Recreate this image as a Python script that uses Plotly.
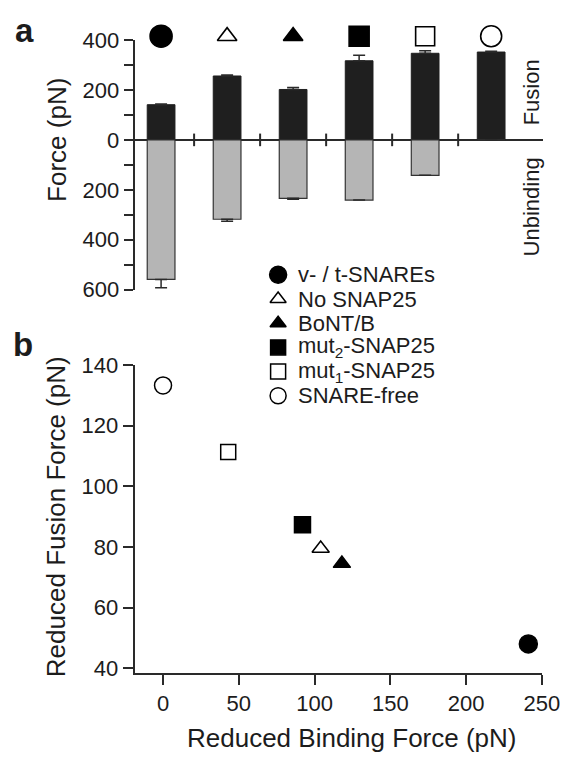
import plotly.graph_objects as go

# ---------------- data ----------------
conditions = ["v- / t-SNAREs", "No SNAP25", "BoNT/B",
              "mut<sub>2</sub>-SNAP25", "mut<sub>1</sub>-SNAP25", "SNARE-free"]
symbols = ["circle", "triangle-up-open", "triangle-up", "square", "square-open", "circle-open"]

fusion_force = [141, 256, 202, 317, 347, 352]
fusion_err = [3, 4, 8, 22, 10, 3]
unbinding_force = [559, 318, 234, 241, 142, 0]
unbinding_err = [33, 8, 4, 0, 0, 0]

reduced_binding = [241, 104, 118, 92, 43, 0]
reduced_fusion = [48, 79.5, 74.5, 87.3, 111.3, 133.3]

a_ticks = [-600, -400, -200, 0, 200, 400]
a_ticktext = ["600", "400", "200", "0", "200", "400"]
b_xticks = [0, 50, 100, 150, 200, 250]
b_yticks = [40, 60, 80, 100, 120, 140]

# ---------------- layout helpers ----------------
W, H = 581, 766
FONT = "Liberation Sans, Arial, sans-serif"
INK = "#1c1c1c"
AX = "#2a2a2a"

def px(xp):
    return xp / W

def py(yp):
    return 1 - yp / H

idx = list(range(len(conditions)))
fig = go.Figure()

# Panel a bars
fig.add_trace(go.Bar(
    x=idx, y=fusion_force, width=0.42,
    marker=dict(color="#1f1f1f", line=dict(color="#1f1f1f", width=1)),
    error_y=dict(type="data", symmetric=False, array=fusion_err,
                 arrayminus=[0] * len(idx), color=AX, thickness=1.5, width=6),
    xaxis="x", yaxis="y", showlegend=False))
fig.add_trace(go.Bar(
    x=idx, y=[-v for v in unbinding_force], width=0.42,
    marker=dict(color="#b5b5b5", line=dict(color="#333333", width=1.2)),
    error_y=dict(type="data", symmetric=False, array=[0] * len(idx),
                 arrayminus=unbinding_err, color=AX, thickness=1.5, width=6),
    xaxis="x", yaxis="y", showlegend=False))

# category boundary ticks on the zero line
bounds = [i + 0.5 for i in idx[:-1]]
fig.add_trace(go.Scatter(
    x=bounds, y=[0] * len(bounds), mode="markers",
    marker=dict(symbol="line-ns", size=9, line=dict(color=AX, width=2)),
    xaxis="x", yaxis="y", showlegend=False, hoverinfo="skip", cliponaxis=False))

# symbols above bars (own strip axis sharing the bar x axis)
fig.add_trace(go.Scatter(
    x=idx, y=[0.5] * len(idx), mode="markers",
    marker=dict(symbol=symbols, size=[22, 17, 17, 20, 19, 21], color="#000000",
                opacity=1, line=dict(color="#000000", width=1.6)),
    xaxis="x4", yaxis="y4", showlegend=False, cliponaxis=False, hoverinfo="skip"))

# Panel b scatter
fig.add_trace(go.Scatter(
    x=reduced_binding, y=reduced_fusion, mode="markers",
    marker=dict(symbol=symbols, size=[18, 15, 15, 16, 15, 17], color="#000000",
                opacity=1, line=dict(color="#000000", width=1.5)),
    xaxis="x2", yaxis="y2", showlegend=False, cliponaxis=False))

# Manual legend on a pixel overlay axis
leg_x, leg_y0, leg_dy = 287, 271.7, 25
leg_rows = [leg_y0 + i * leg_dy for i in idx]
fig.add_trace(go.Scatter(
    x=[leg_x] * len(idx), y=leg_rows, mode="markers",
    marker=dict(symbol=symbols, size=[17, 14, 14, 15, 15, 16], color="#000000",
                opacity=1, line=dict(color="#000000", width=1.5)),
    xaxis="x3", yaxis="y3", showlegend=False, cliponaxis=False, hoverinfo="skip"))

annotations = []
for name, yr in zip(conditions, leg_rows):
    annotations.append(dict(x=px(leg_x + 18), y=py(yr), xref="paper", yref="paper",
                            text=name, showarrow=False, xanchor="left", yanchor="middle",
                            font=dict(size=22, color=INK, family=FONT)))

def ann(text, x, y, size, angle=0, bold=False):
    annotations.append(dict(x=px(x), y=py(y), xref="paper", yref="paper",
                            text=f"<b>{text}</b>" if bold else text, showarrow=False,
                            xanchor="center", yanchor="middle", textangle=angle,
                            font=dict(size=size, color=INK, family=FONT)))

ann("a", 25, 19, 33, bold=True)
ann("b", 24, 344, 33, bold=True)
ann("Force (pN)", 58, 132, 26, angle=-90)
ann("Fusion", 548, 83, 22, angle=-90)
ann("Unbinding", 548, 202, 22, angle=-90)
ann("Reduced Fusion Force (pN)", 58, 522, 26, angle=-90)
ann("Reduced Binding Force (pN)", 363, 750, 26)

tickfont = dict(size=22, color=INK, family=FONT)

fig.update_layout(
    width=W, height=H, margin=dict(l=0, r=0, t=0, b=0),
    paper_bgcolor="white", plot_bgcolor="rgba(0,0,0,0)",
    barmode="overlay", font=dict(family=FONT, color=INK),
    annotations=annotations,
    xaxis=dict(domain=[px(139), px(560)], range=[-0.4, 5.78], anchor="y",
               showline=False, showticklabels=False, ticks="", showgrid=False,
               zeroline=False, fixedrange=True),
    yaxis=dict(domain=[py(287), py(29)], range=[-600, 400], anchor="x",
               tickvals=a_ticks, ticktext=a_ticktext, ticks="outside", ticklen=9,
               tickwidth=1.8, tickcolor=AX, showline=True, linecolor=AX, linewidth=2,
               minor=dict(dtick=100, tick0=0, ticks="outside", ticklen=9,
                          tickwidth=1.8, tickcolor=AX, showgrid=False),
               showgrid=False, zeroline=True, zerolinecolor=AX, zerolinewidth=2,
               tickfont=tickfont),
    xaxis4=dict(domain=[px(139), px(560)], matches="x", anchor="y4", visible=False),
    yaxis4=dict(domain=[py(37), py(13)], range=[0, 1], anchor="x4", visible=False),
    xaxis2=dict(domain=[px(139), px(559.3)], range=[-18.7, 250], anchor="y2",
                tickvals=b_xticks, ticks="outside", ticklen=10, tickwidth=1.8,
                tickcolor=AX, showline=True, linecolor=AX, linewidth=2,
                showgrid=False, zeroline=False, tickfont=tickfont),
    yaxis2=dict(domain=[py(683.3), py(365)], range=[38.4, 140], anchor="x2",
                tickvals=b_yticks, ticks="outside", ticklen=10, tickwidth=1.8,
                tickcolor=AX, showline=True, linecolor=AX, linewidth=2,
                showgrid=False, zeroline=False, tickfont=tickfont),
    xaxis3=dict(domain=[0, 1], range=[0, W], visible=False, anchor="y3", fixedrange=True),
    yaxis3=dict(domain=[0, 1], range=[H, 0], visible=False, anchor="x3", fixedrange=True),
)

fig.write_html("out.html")
